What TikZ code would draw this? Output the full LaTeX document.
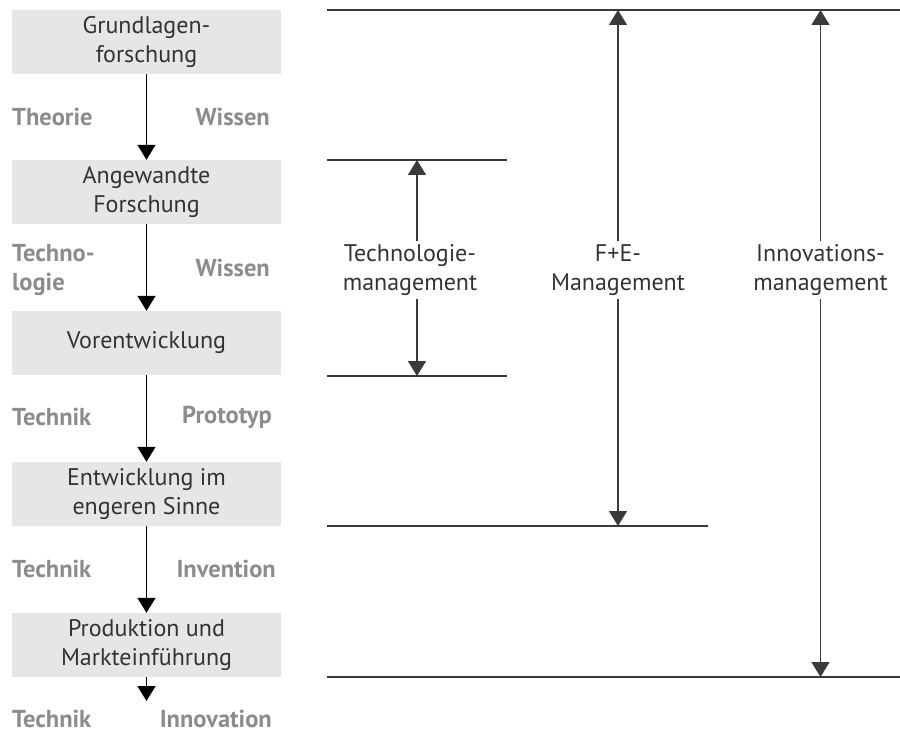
\documentclass[tikz,border=0pt]{standalone}
\usepackage{fontspec}
\setmainfont{PT Sans}
\usetikzlibrary{arrows.meta}
\definecolor{boxgray}{HTML}{E6E6E6}
\definecolor{labgray}{HTML}{8C8C8C}
\definecolor{txtdark}{HTML}{333333}
\definecolor{linedark}{HTML}{3A3A3A}
\begin{document}
\begin{tikzpicture}[x=1pt,y=-1pt,
  phase/.style={fill=boxgray,minimum width=269pt,minimum height=64pt,inner sep=0pt,
    text=txtdark,align=center,font=\fontsize{24}{29.5}\selectfont},
  kind/.style={text=labgray,font=\fontsize{24.5}{29.5}\selectfont\bfseries,align=left,inner sep=0pt},
  mgmt/.style={text=txtdark,align=center,font=\fontsize{24}{29.5}\selectfont,inner sep=3pt},
  flow/.style={draw=black,line width=1.5pt,-{Triangle[width=18pt,length=15pt]}},
  bound/.style={draw=linedark,line width=1.5pt}]
\useasboundingbox (0,0) rectangle (900,733);

% process stages
\node[phase] (b1) at (146.5,42) {Grundlagen-\\forschung};
\node[phase] (b2) at (146.5,192) {Angewandte\\Forschung};
\node[phase] (b3) at (146.5,343) {Vorentwicklung};
\node[phase] (b4) at (146.5,494) {Entwicklung im\\engeren Sinne};
\node[phase] (b5) at (146.5,645) {Produktion und\\Markteinführung};
\coordinate (end) at (146.5,701);

\draw[flow] (b1.south) -- (b2.north);
\draw[flow] (b2.south) -- (b3.north);
\draw[flow] (b3.south) -- (b4.north);
\draw[flow] (b4.south) -- (b5.north);
\draw[flow] (b5.south) -- (end);

% labels between the stages
\node[kind,anchor=west] (l1) at (12,117) {Theorie};
\node[kind,anchor=east] (r1) at (270,117) {Wissen};
\node[kind,anchor=west] (l2) at (12,270) {Techno-\\logie};
\node[kind,anchor=east] (r2) at (270,268) {Wissen};
\node[kind,anchor=west] (l3) at (12,417) {Technik};
\node[kind,anchor=east] (r3) at (272,417) {Prototyp};
\node[kind,anchor=west] (l4) at (12,569) {Technik};
\node[kind,anchor=east] (r4) at (276,569) {Invention};
\node[kind,anchor=west] (l5) at (12,719) {Technik};
\node[kind,anchor=east] (r5) at (272,719) {Innovation};

% horizontal limits
\coordinate (topL) at (327,10);   \coordinate (topR) at (900,10);
\coordinate (tTopL) at (327,160); \coordinate (tTopR) at (507,160);
\coordinate (tBotL) at (327,376); \coordinate (tBotR) at (507,376);
\coordinate (fBotL) at (327,526); \coordinate (fBotR) at (708,526);
\coordinate (iBotL) at (327,677); \coordinate (iBotR) at (900,677);
\draw[bound] (topL) -- (topR);
\draw[bound] (tTopL) -- (tTopR);
\draw[bound] (tBotL) -- (tBotR);
\draw[bound] (fBotL) -- (fBotR);
\draw[bound] (iBotL) -- (iBotR);

% management spans
\node[mgmt] (tm) at (410,270) {Technologie-\\management};
\node[mgmt] (fe) at (618,270) {F+E-\\Management};
\node[mgmt] (im) at (820.5,270) {Innovations-\\management};

\coordinate (tmT) at (417,160); \coordinate (tmB) at (417,376);
\coordinate (feT) at (618,10);  \coordinate (feB) at (618,526);
\coordinate (imT) at (820.5,10); \coordinate (imB) at (820.5,677);

\draw[flow,draw=linedark] (tm.north -| tmT) -- (tmT);
\draw[flow,draw=linedark] (tm.south -| tmB) -- (tmB);
\draw[flow,draw=linedark] (fe.north) -- (feT);
\draw[flow,draw=linedark] (fe.south) -- (feB);
\draw[flow,draw=linedark] (im.north) -- (imT);
\draw[flow,draw=linedark] (im.south) -- (imB);
\end{tikzpicture}
\end{document}
